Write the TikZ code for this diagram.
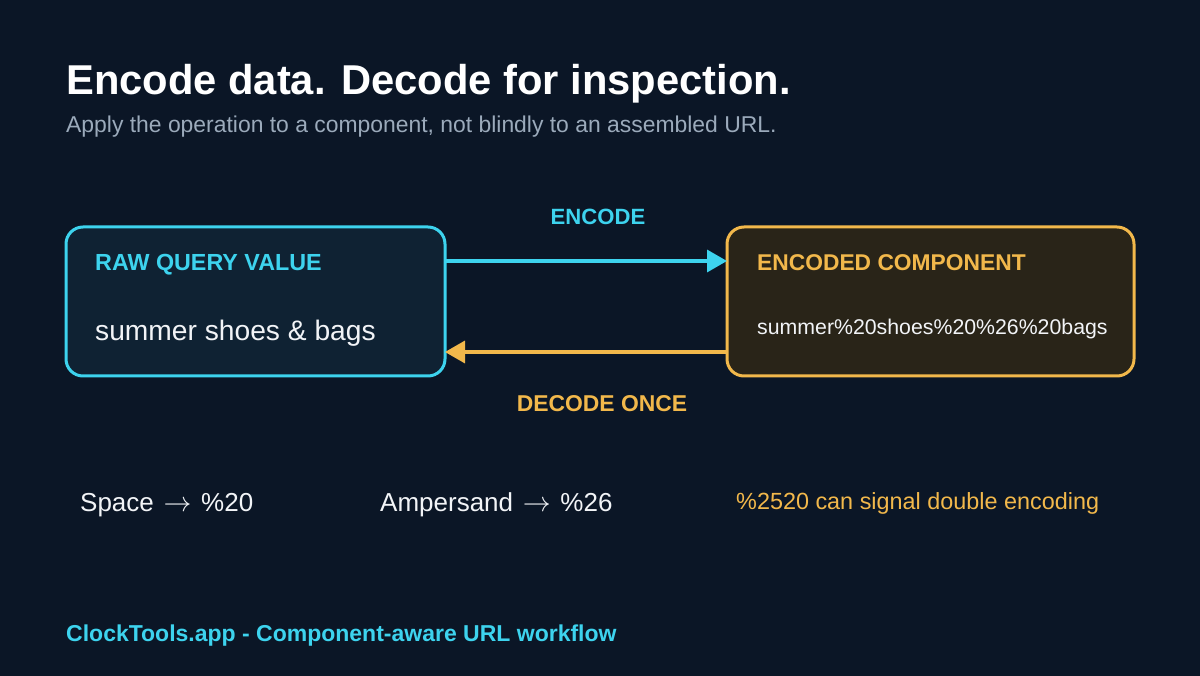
\documentclass[tikz,border=0pt]{standalone}
\usepackage{fontspec}
\setmainfont{Liberation Sans}
\usetikzlibrary{arrows.meta}
\definecolor{bg}{HTML}{0B1626}
\definecolor{cyanc}{HTML}{3DD3EE}
\definecolor{orangec}{HTML}{F2B84B}
\definecolor{subc}{HTML}{9BAABB}
\definecolor{lfill}{HTML}{0F2233}
\definecolor{rfill}{HTML}{292418}
\definecolor{txt}{HTML}{F2F4F7}
\newcommand{\rarr}{\hspace{2.5pt}\scalebox{1.12}{$\rightarrow$}\hspace{2.5pt}}
\tikzset{
  box/.style={draw, line width=3pt, rounded corners=17pt, inner sep=0pt},
  plain/.style={anchor=base west, inner sep=0pt},
  conn/.style={line width=3.5pt, -{Triangle[length=20pt,width=22pt]}},
}
\begin{document}
\begin{tikzpicture}[x=1pt,y=-1pt]
\fill[bg] (0,0) rectangle (1200,676);
\useasboundingbox (0,0) rectangle (1200,676);
\node[plain, text=white, font=\fontsize{41.7}{48}\selectfont\bfseries] (title) at (66,95) {Encode data. Decode for inspection.};
\node[plain, text=subc, font=\fontsize{22.9}{26}\selectfont] (sub) at (66,133) {Apply the operation to a component, not blindly to an assembled URL.};
\draw[box, cyanc, fill=lfill] (66,227) rectangle (445,376);
\draw[box, orangec, fill=rfill] (727,227) rectangle (1134,376);
\node[plain, text=cyanc, font=\fontsize{23.3}{26}\selectfont\bfseries] (rawlbl) at (95,271) {RAW QUERY VALUE};
\node[plain, text=txt, font=\fontsize{28.2}{32}\selectfont] (raw) at (95,341) {summer shoes \& bags};
\node[plain, text=orangec, font=\fontsize{22.8}{26}\selectfont\bfseries] (enclbl) at (757,271) {ENCODED COMPONENT};
\node[plain, text=txt, font=\fontsize{21.3}{24}\selectfont] (enc) at (757,335) {summer\%20shoes\%20\%26\%20bags};
\coordinate (a1) at (446,261);
\coordinate (b1) at (727,261);
\coordinate (a2) at (727,352);
\coordinate (b2) at (445,352);
\draw[conn, cyanc] (a1) -- (b1);
\draw[conn, orangec] (a2) -- (b2);
\node[anchor=base, inner sep=0pt, text=cyanc, font=\fontsize{22.1}{24}\selectfont\bfseries] (enclab) at (598,225) {ENCODE};
\node[anchor=base, inner sep=0pt, text=orangec, font=\fontsize{22.9}{24}\selectfont\bfseries] (declab) at (602,411) {DECODE ONCE};
\node[plain, text=txt, font=\fontsize{26}{28}\selectfont] (sp) at (80,511) {Space \rarr{} \%20};
\node[plain, text=txt, font=\fontsize{26}{28}\selectfont] (amp) at (380,511) {Ampersand \rarr{} \%26};
\node[plain, text=orangec, font=\fontsize{23.4}{26}\selectfont] (dbl) at (736,509) {\%2520 can signal double encoding};
\node[plain, text=cyanc, font=\fontsize{23}{26}\selectfont\bfseries] (foot) at (66,641) {ClockTools.app - Component-aware URL workflow};
\end{tikzpicture}
\end{document}
